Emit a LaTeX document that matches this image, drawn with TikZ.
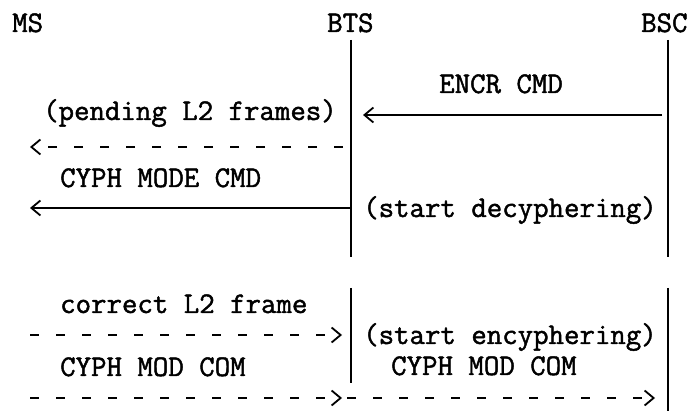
\documentclass[tikz,border=0pt]{standalone}
\usepackage{fontspec}
\setmonofont{Latin Modern Mono}[RawFeature={embolden=1.5}]
\usetikzlibrary{arrows.meta}
\usetikzlibrary{positioning,calc}

\begin{document}
\begin{tikzpicture}[x=1pt,y=-1pt,
         txt/.style = {font=\ttfamily\fontsize{30}{36}\selectfont,
         inner sep=0pt, anchor=base west},
         life/.style = {line width=1.8pt},
         msg/.style = {line width=1.8pt,
         -{Straight Barb[length=9pt,width=15pt,line width=1.8pt]}},
         pend/.style = {msg, dash pattern=on 9pt off 17pt}
]
      \useasboundingbox (0,0) rectangle (696,411);

      % entities
      \node[txt] (ms)  at (12,32)  {MS};
      \node[txt] (bts) at (327,32) {BTS};
      \node[txt] (bsc) at (641,32) {BSC};

      % lifelines
      \coordinate (bts0) at (351,40);
      \coordinate (bts1) at (351,257);
      \coordinate (bts2) at (351,288);
      \coordinate (bts3) at (351,383);
      \coordinate (bsc0) at (668,40);
      \coordinate (bsc1) at (668,257);
      \coordinate (bsc2) at (668,288);
      \coordinate (bsc3) at (668,411);
      \draw[life] (bts0) -- (bts1) (bts2) -- (bts3);
      \draw[life] (bsc0) -- (bsc1) (bsc2) -- (bsc3);

      % encryption command
      \node[txt] (encr) at (439,93) {ENCR CMD};
      \coordinate (encr0) at (662,115);
      \coordinate (encr1) at (363,115);
      \draw[msg] (encr0) -- (encr1);

      % pending frames
      \node[txt] (pend) at (43,120) {(pending L2 frames)};
      \coordinate (pend0) at (343,147);
      \coordinate (pend1) at (30,147);
      \draw[pend] (pend0) -- (pend1);

      % cyph mode command
      \node[txt] (cmd) at (60,187) {CYPH MODE CMD};
      \coordinate (cmd0) at (351,208);
      \coordinate (cmd1) at (30,208);
      \draw[msg] (cmd0) -- (cmd1);
      \node[txt] (decy) at (363,217) {(start decyphering)};

      % correct frame
      \node[txt] (corr) at (60,313) {correct L2 frame};
      \coordinate (corr0) at (30,335);
      \coordinate (corr1) at (342,335);
      \draw[pend] (corr0) -- (corr1);
      \node[txt] (ency) at (363,344) {(start encyphering)};

      % cyph mod com
      \node[txt] (com0) at (60,376)  {CYPH MOD COM};
      \node[txt] (com1) at (391,375) {CYPH MOD COM};
      \coordinate (com2) at (30,398);
      \coordinate (com3) at (342,398);
      \coordinate (com4) at (347,398);
      \coordinate (com5) at (655,398);
      \draw[pend] (com2) -- (com3);
      \draw[pend] (com4) -- (com5);

\end{tikzpicture}
\end{document}
